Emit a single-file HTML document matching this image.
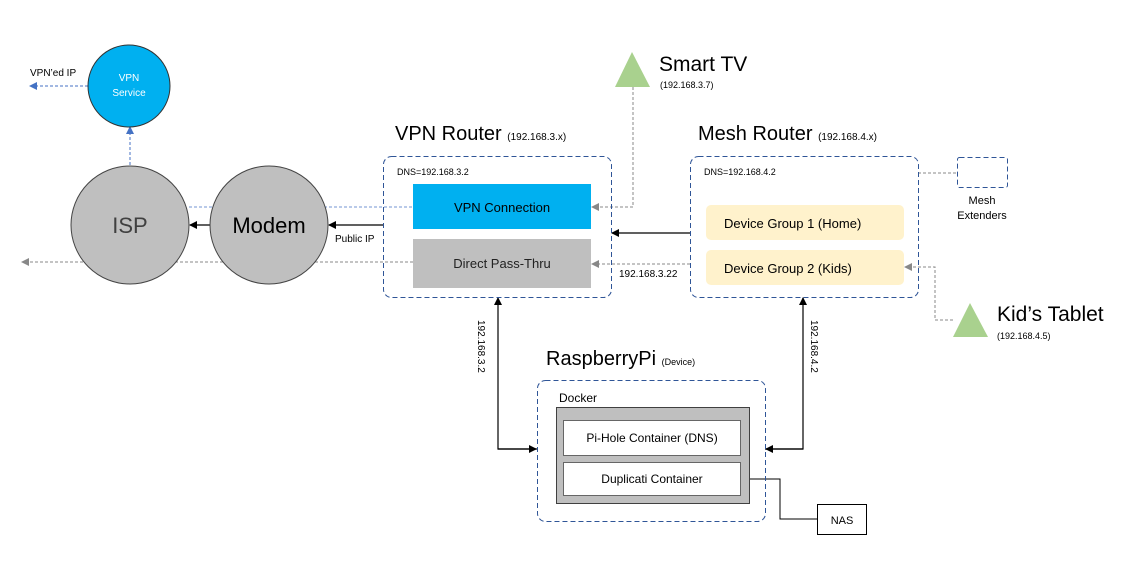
<!DOCTYPE html>
<html><head><meta charset="utf-8"><style>
html,body{margin:0;padding:0;background:#fff;}
svg{display:block;font-family:"Liberation Sans",sans-serif;}
</style></head><body>
<svg width="1134" height="563" viewBox="0 0 1134 563" xmlns="http://www.w3.org/2000/svg">
<defs>
<marker id="ab" markerWidth="8" markerHeight="8" refX="7" refY="4" orient="auto" markerUnits="userSpaceOnUse"><path d="M0,0 L8,4 L0,8 z" fill="#000"/></marker>
<marker id="ag" markerWidth="8" markerHeight="8" refX="7" refY="4" orient="auto" markerUnits="userSpaceOnUse"><path d="M0,0 L8,4 L0,8 z" fill="#888"/></marker>
<marker id="abl" markerWidth="8" markerHeight="8" refX="7" refY="4" orient="auto" markerUnits="userSpaceOnUse"><path d="M0,0 L8,4 L0,8 z" fill="#4472C4"/></marker>
</defs>
<!-- connectors -->
<line x1="189" y1="207" x2="413" y2="207" stroke="#8FAADC" stroke-width="1.3" stroke-dasharray="3,2"/>
<line x1="413" y1="262" x2="22" y2="262" stroke="#888" stroke-width="1" stroke-dasharray="3,2" marker-end="url(#ag)"/>
<line x1="130" y1="165" x2="130" y2="127" stroke="#4472C4" stroke-width="1" stroke-dasharray="3,2" marker-end="url(#abl)"/>
<line x1="88" y1="86" x2="30" y2="86" stroke="#4472C4" stroke-width="1" stroke-dasharray="3,2" marker-end="url(#abl)"/>
<line x1="383" y1="225" x2="329" y2="225" stroke="#000" stroke-width="1.2" marker-end="url(#ab)"/>
<line x1="210" y1="225" x2="190" y2="225" stroke="#000" stroke-width="1.2" marker-end="url(#ab)"/>
<polyline points="633,87 633,207 592,207" fill="none" stroke="#888" stroke-dasharray="3,2" marker-end="url(#ag)"/>
<line x1="690" y1="233" x2="612" y2="233" stroke="#000" stroke-width="1.2" marker-end="url(#ab)"/>
<line x1="690" y1="264" x2="592" y2="264" stroke="#888" stroke-dasharray="3,2" marker-end="url(#ag)"/>
<polyline points="537,449 498,449 498,298" fill="none" stroke="#000" stroke-width="1.2" marker-end="url(#ab)"/>
<line x1="498" y1="449" x2="536" y2="449" stroke="#000" stroke-width="1.2" marker-end="url(#ab)"/>
<polyline points="765,449 803,449 803,298" fill="none" stroke="#000" stroke-width="1.2" marker-end="url(#ab)"/>
<line x1="803" y1="449" x2="766" y2="449" stroke="#000" stroke-width="1.2" marker-end="url(#ab)"/>
<polyline points="740,479 780,479 780,519 817,519" fill="none" stroke="#000" stroke-width="1"/>
<line x1="918" y1="173" x2="957" y2="173" stroke="#888" stroke-dasharray="3,2"/>
<polyline points="953,320 935,320 935,267 905,267" fill="none" stroke="#888" stroke-dasharray="3,2" marker-end="url(#ag)"/>
<!-- circles -->
<circle cx="129" cy="86" r="41" fill="#00B0F0" stroke="#333" stroke-width="1"/>
<text x="129" y="81" font-size="10" fill="#fff" text-anchor="middle">VPN</text>
<text x="129" y="96" font-size="10" fill="#fff" text-anchor="middle">Service</text>
<text x="30" y="76" font-size="10" fill="#000">VPN’ed IP</text>
<circle cx="130" cy="225" r="59" fill="#BFBFBF" stroke="#444" stroke-width="1"/>
<text x="130" y="233" font-size="22" fill="#404040" text-anchor="middle">ISP</text>
<circle cx="269" cy="225" r="59" fill="#BFBFBF" stroke="#444" stroke-width="1"/>
<text x="269" y="233" font-size="22" fill="#000" text-anchor="middle">Modem</text>
<text x="335" y="242" font-size="10">Public IP</text>
<!-- VPN router -->
<text x="395" y="140" font-size="20">VPN Router <tspan font-size="10">(192.168.3.x)</tspan></text>
<rect x="383.5" y="156.5" width="228" height="141" rx="8" fill="none" stroke="#2F5597" stroke-dasharray="5,3"/>
<text x="397" y="175" font-size="9">DNS=192.168.3.2</text>
<rect x="413" y="184" width="178" height="45" fill="#00B0F0"/>
<text x="502" y="212" font-size="13" text-anchor="middle">VPN Connection</text>
<rect x="413" y="239" width="178" height="49" fill="#BFBFBF"/>
<text x="502" y="268" font-size="13" text-anchor="middle" fill="#222">Direct Pass-Thru</text>
<text x="619" y="277" font-size="10">192.168.3.22</text>
<!-- Smart TV -->
<polygon points="632,52 650,87 615,87" fill="#A9D18E"/>
<text x="659" y="71" font-size="21">Smart TV</text>
<text x="660" y="88" font-size="9">(192.168.3.7)</text>
<!-- Mesh router -->
<text x="698" y="140" font-size="20">Mesh Router <tspan font-size="10">(192.168.4.x)</tspan></text>
<rect x="690.5" y="156.5" width="228" height="141" rx="8" fill="none" stroke="#2F5597" stroke-dasharray="5,3"/>
<text x="704" y="175" font-size="9">DNS=192.168.4.2</text>
<rect x="706" y="205" width="198" height="35" rx="5" fill="#FFF2CC"/>
<text x="724" y="228" font-size="13">Device Group 1 (Home)</text>
<rect x="706" y="250" width="198" height="35" rx="5" fill="#FFF2CC"/>
<text x="724" y="273" font-size="13">Device Group 2 (Kids)</text>
<rect x="957.5" y="157.5" width="50" height="30" rx="2" fill="none" stroke="#2F5597" stroke-dasharray="5,3"/>
<text x="982" y="204" font-size="11" text-anchor="middle">Mesh</text>
<text x="982" y="219" font-size="11" text-anchor="middle">Extenders</text>
<polygon points="970,303 988,337 953,337" fill="#A9D18E"/>
<text x="997" y="321" font-size="21">Kid’s Tablet</text>
<text x="997" y="339" font-size="9">(192.168.4.5)</text>
<!-- Rotated labels -->
<text transform="translate(478,320) rotate(90)" font-size="10">192.168.3.2</text>
<text transform="translate(811,320) rotate(90)" font-size="10">192.168.4.2</text>
<!-- RaspberryPi -->
<text x="546" y="365" font-size="20">RaspberryPi <tspan font-size="9">(Device)</tspan></text>
<rect x="537.5" y="380.5" width="228" height="141" rx="8" fill="none" stroke="#2F5597" stroke-dasharray="5,3"/>
<text x="559" y="402" font-size="12">Docker</text>
<rect x="556.5" y="407.5" width="193" height="96" fill="#BFBFBF" stroke="#404040"/>
<rect x="563.5" y="420.5" width="177" height="35" fill="#fff" stroke="#666"/>
<text x="652" y="442" font-size="12" text-anchor="middle">Pi-Hole Container (DNS)</text>
<rect x="563.5" y="462.5" width="177" height="33" fill="#fff" stroke="#666"/>
<text x="652" y="483" font-size="12" text-anchor="middle">Duplicati Container</text>
<rect x="817.5" y="504.5" width="49" height="30" fill="#fff" stroke="#000"/>
<text x="842" y="524" font-size="11" text-anchor="middle">NAS</text>
</svg>
</body></html>
